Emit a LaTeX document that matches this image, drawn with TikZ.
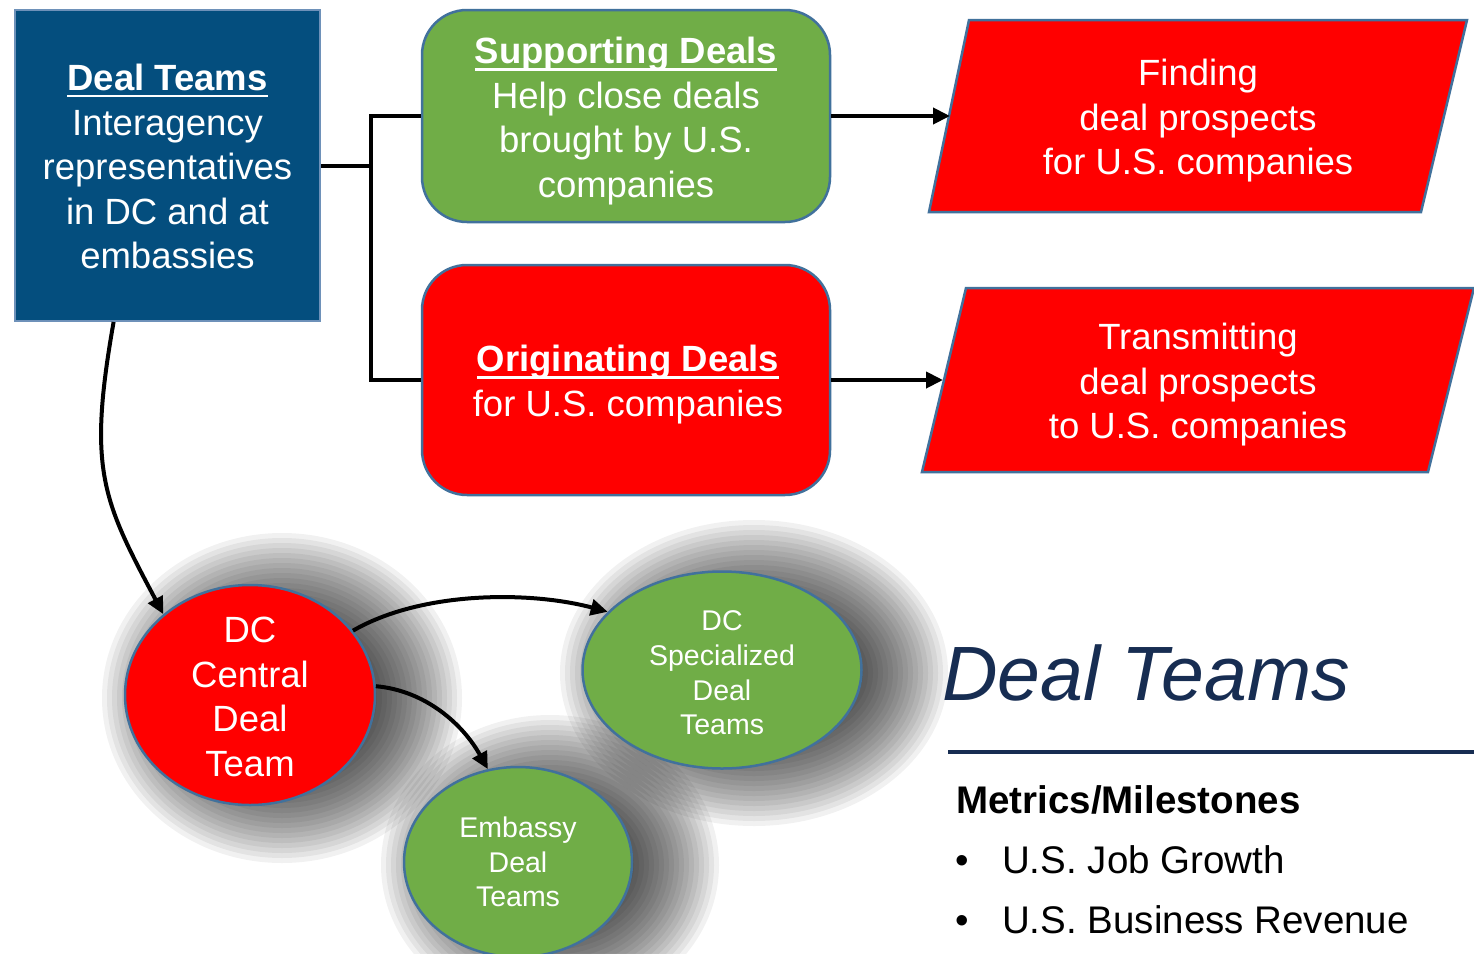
\documentclass[tikz,border=0pt]{standalone}
\usepackage{fontspec}
\setmainfont{Liberation Sans}
\usetikzlibrary{shapes.geometric,arrows.meta,calc}
\definecolor{dtblue}{RGB}{4,78,126}
\definecolor{dtblueedge}{RGB}{110,145,185}
\definecolor{dtgreen}{RGB}{112,173,71}
\definecolor{dtred}{RGB}{255,0,0}
\definecolor{dtedge}{RGB}{65,113,156}
\definecolor{dtnavy}{RGB}{23,45,82}
\newcommand\dtul[1]{\setbox0=\hbox{#1}\rlap{\raisebox{-0.19em}{\rule{\wd0}{0.08em}}}\box0}
\newcommand\dtshadow[4]{%
  \foreach \k in {0,...,21}{%
    \fill[black, fill opacity=0.055] (#1+32,#2+3) ellipse [x radius={(#3+55-5*\k)*1pt}, y radius={(#4+55-5*\k)*1pt}];}}
\tikzset{
  conn/.style={line width=4pt, black},
  arr/.style={conn, -{Triangle[length=17pt,width=16pt]}},
  txt/.style={text=white, align=center, font=\fontsize{36.5}{44.5}\selectfont, inner sep=0pt},
  smalltxt/.style={text=white, align=center, font=\fontsize{28.5}{34.7}\selectfont, inner sep=0pt},
  box/.style={draw=dtedge, line width=2.5pt, rounded corners=45pt, minimum width=408pt, inner sep=0pt},
  oval/.style={ellipse, draw=dtedge, line width=2.5pt, inner sep=0pt},
  para/.style={draw=dtedge, line width=2.5pt, fill=dtred, line join=miter}
}
\begin{document}
\begin{tikzpicture}[x=1pt,y=-1pt]
\useasboundingbox (0,0) rectangle (1474,953);
\fill[white] (0,0) rectangle (1474,953);

% shadows
\dtshadow{250}{695}{125}{110}
\dtshadow{722}{670}{139}{98}
\dtshadow{518}{862}{114}{95}

% top boxes
\node[rectangle, draw=dtblueedge, line width=2pt, fill=dtblue, minimum width=305pt, minimum height=311pt, inner sep=0pt,
  label={[txt,name=bluet,yshift=-1pt]center:\dtul{\textbf{Deal Teams}}\\Interagency\\representatives\\in DC and at\\embassies}] (blue) at (167.5,165.5) {};
\node[box, fill=dtgreen, minimum height=212pt,
  label={[txt,name=supt,yshift=-5pt]center:\dtul{\textbf{Supporting Deals}}\\Help close deals\\brought by U.S.\\companies}] (sup) at (626,116) {};
\node[box, fill=dtred, minimum height=230pt,
  label={[txt,name=origt,yshift=-4.5pt,xshift=2pt]center:\dtul{\textbf{Originating Deals}}\\for U.S. companies}] (orig) at (626,380) {};

% parallelograms
\draw[para] (929,212) -- (969,20) -- (1467,20) -- (1421,212) -- cycle;
\node[txt] (find) at (1198,121) {Finding\\deal prospects\\for U.S. companies};
\coordinate (findin) at (950,116);
\draw[para] (922,472) -- (966,288) -- (1474,288) -- (1428,472) -- cycle;
\node[txt] (trans) at (1198,385) {Transmitting\\deal prospects\\to U.S. companies};
\coordinate (transin) at (943,380);

% connectors top
\coordinate (jn) at ($(blue.east)+(50,0)$);
\draw[conn, line join=miter] (sup.west) -| (jn) |- (orig.west);
\draw[conn] (blue.east) -- (jn);
\draw[arr] (sup.east) -- (findin);
\draw[arr] (orig.east) -- (transin);

% ellipses
\node[oval, fill=dtred, minimum width=250pt, minimum height=220pt,
  label={[txt,name=dcct,yshift=-2pt]center:DC\\Central\\Deal\\Team}] (dcc) at (250,695) {};
\node[oval, fill=dtgreen, minimum width=279pt, minimum height=197pt,
  label={[smalltxt,name=dcst,yshift=-3pt]center:DC\\Specialized\\Deal\\Teams}] (dcs) at (722,670) {};
\node[oval, fill=dtgreen, minimum width=228pt, minimum height=190pt,
  label={[smalltxt,name=embt]center:Embassy\\Deal\\Teams}] (emb) at (518,862) {};

% curved arrows
\draw[arr] (blue.251) .. controls +(260:150pt) and +(118:130pt) .. (dcc.137);
\draw[arr] (dcc.32) .. controls +(30:80pt) and +(165:80pt) .. (dcs.153);
\draw[arr] (dcc.4) .. controls +(-5:50pt) and +(119:51pt) .. (emb.108);

% right side text
\node[anchor=base west, inner sep=0pt, text=dtnavy, font=\fontsize{77}{90}\selectfont\itshape] (title) at (942,700) {Deal Teams};
\draw[line width=4pt, dtnavy] (948,752) -- (1474,752);
\node[anchor=base west, inner sep=0pt, font=\fontsize{38.5}{46}\selectfont\bfseries] (metrics) at (956,813) {Metrics/Milestones};
\node[anchor=base west, inner sep=0pt, font=\fontsize{38.5}{46}\selectfont] (item1) at (955,873) {\makebox[47pt][l]{•}U.S. Job Growth};
\node[anchor=base west, inner sep=0pt, font=\fontsize{38.5}{46}\selectfont] (item2) at (955,933) {\makebox[47pt][l]{•}U.S. Business Revenue};
\end{tikzpicture}
\end{document}
